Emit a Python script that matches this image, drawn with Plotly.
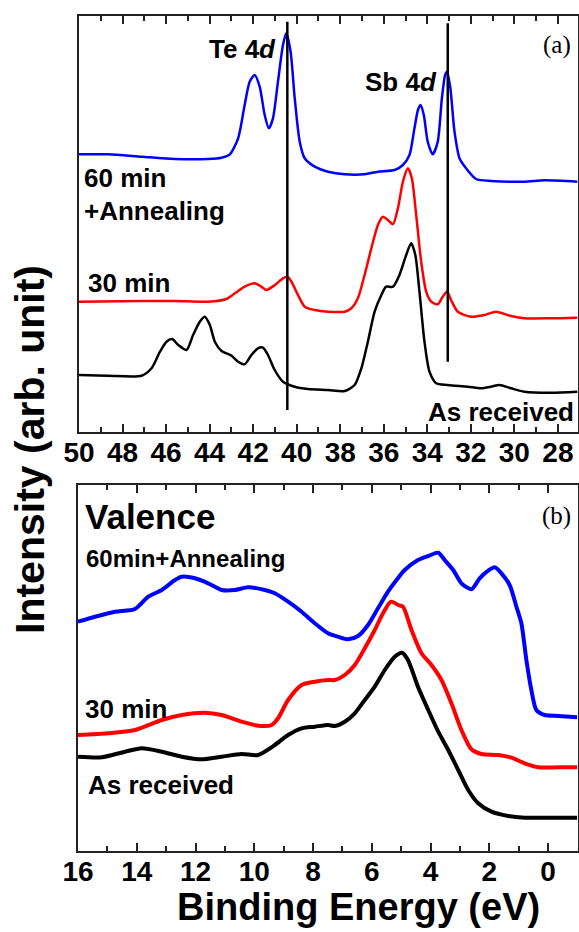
import plotly.graph_objects as go

W, H = 579, 932

# ---------------- Panel (a): Te 4d / Sb 4d core levels ----------------
a_blue_x = [50, 48.66, 47.12, 45.6, 44.07, 43.45, 43.07, 42.69, 42.39, 42.16, 41.93, 41.7, 41.47, 41.28,
            41.09, 40.86, 40.63, 40.48, 40.28, 40.09, 39.86, 39.63, 39.17, 38.56, 37.8, 36.88, 36.27,
            35.5, 35.12, 34.82, 34.59, 34.43, 34.31, 34.16, 33.98, 33.75, 33.52, 33.33, 33.18, 33.09,
            32.94, 32.75, 32.52, 32.22, 31.76, 31.07, 29.54, 28.62, 27.1]
a_blue_y = [277.7, 277.7, 275.3, 273, 273, 274.3, 277.7, 293.7, 327, 350.3, 357, 345.3, 317, 303.7,
            313.7, 350.3, 387, 398.7, 380.3, 333.7, 290.3, 273.7, 265.3, 260.3, 257.7, 257.7, 260.3,
            262, 267, 277, 303.7, 322, 327, 317, 290.3, 277.7, 290.3, 333.7, 357, 360.3,
            343.7, 300.3, 273.7, 263.7, 253, 251, 250.3, 251.7, 250.3]

a_red_x = [50, 47.12, 45.6, 44.07, 43.23, 42.84, 42.39, 41.93, 41.62, 41.39, 41.0, 40.63, 40.43, 40.24,
           39.94, 39.63, 39.17, 38.56, 37.8, 37.49, 37.19, 36.88, 36.57, 36.27, 36.04, 35.81, 35.58,
           35.35, 35.12, 34.89, 34.71, 34.51, 34.28, 34.05, 33.82, 33.52, 33.29, 33.09, 32.91, 32.6,
           31.99, 31.38, 30.84, 30.15, 29.54, 28.32, 27.1]
a_red_y = [130.3, 131, 131, 130.3, 133, 138.7, 145.3, 148.7, 145.3, 142, 147, 153.7, 155.3, 150.3,
           137, 125.3, 122, 120.3, 120.3, 123.7, 133.7, 157, 183.7, 207, 215.3, 212, 207.7,
           223.7, 250.3, 263.7, 253.7, 217, 170.3, 140.3, 130.3, 127.7, 135.3, 140.3, 132, 120.3,
           115.3, 117, 120.3, 116, 113.7, 113.7, 114.3]

a_black_x = [50, 48.66, 47.12, 46.67, 46.28, 45.98, 45.72, 45.44, 45.06, 44.76, 44.45, 44.22, 43.99,
             43.76, 43.45, 42.99, 42.69, 42.39, 42.08, 41.78, 41.55, 41.32, 41.01, 40.63, 40.09, 39.48,
             38.56, 37.8, 37.34, 37.03, 36.73, 36.42, 36.11, 35.89, 35.58, 35.28, 34.97, 34.74, 34.55,
             34.36, 34.13, 33.9, 33.59, 33.06, 32.14, 31.53, 31.07, 30.69, 30.15, 29.54, 28.32, 27.1]
a_black_y = [57, 56.3, 56.3, 63.7, 80.3, 90.3, 93, 87, 82, 97, 110.3, 115.3, 107,
             90.3, 81, 76.3, 70.3, 67.7, 77, 83.7, 84.3, 77, 62, 50.3, 45.3, 43,
             42, 41, 47, 63.7, 90.3, 120.3, 137, 145.3, 145.3, 157, 177, 188.7, 177,
             140.3, 90.3, 60.3, 48.7, 47, 45.3, 43.7, 45.3, 47, 43.7, 40.3, 39.3, 40.3]

# reference lines (Te 4d5/2 and Sb 4d5/2)
te_line_x = [40.43, 40.43]
te_line_y = [22, 410.3]
sb_line_x = [33.06, 33.06]
sb_line_y = [70.3, 408.7]

# ---------------- Panel (b): valence band ----------------
b_blue_x = [16, 15.42, 14.74, 14.06, 13.61, 13.15, 12.7, 12.47, 12.02, 11.57, 11.11, 10.66,
            10.21, 9.64, 9.3, 8.85, 8.39, 7.94, 7.49, 7.15, 6.81, 6.47, 6.13, 5.79, 5.45, 5.16, 4.88,
            4.43, 4.08, 3.74, 3.52, 3.23, 2.95, 2.61, 2.33, 2.04, 1.82, 1.59, 1.31, 1.08, 0.91, 0.74,
            0.57, 0.4, 0.12, -0.34, -0.99]
b_blue_y = [229.3, 234.3, 239.3, 242, 254.3, 261, 271, 274.3, 272.7, 267.7, 261, 261,
            263.7, 261, 257.7, 249.3, 239.3, 227.7, 217.7, 214.3, 211.7, 215, 226, 242.7, 259.3, 271, 281,
            291, 295, 298.3, 291, 281, 267.7, 261.7, 272.7, 280.3, 283.7, 277.7, 266, 244.3, 227.7, 191,
            161, 141, 136, 135, 133.7]

b_red_x = [16, 14.97, 14.06, 13.15, 12.47, 11.68, 11.11, 10.43, 9.87, 9.41, 9.19, 8.85, 8.39, 7.94,
           7.49, 7.26, 6.92, 6.58, 6.24, 5.9, 5.62, 5.35, 5.1, 4.94, 4.65, 4.31, 3.97, 3.63, 3.29,
           2.95, 2.61, 2.27, 1.7, 1.25, 0.8, 0.34, -0.34, -0.99]
b_red_y = [116, 117.7, 121, 131, 136, 138.3, 136, 129.3, 125.3, 126, 132.7, 151, 166, 169.3,
           171, 171, 176, 186, 202.7, 221, 237.7, 249.3, 246, 244.3, 221, 197.7, 186, 171, 147.7,
           121, 101.7, 97, 96, 93.3, 87.7, 83.7, 83.7, 83.7]

b_black_x = [16, 15.19, 14.4, 13.83, 13.15, 12.47, 11.79, 11.11, 10.43, 9.87, 9.3, 8.85, 8.39, 7.94,
             7.49, 7.26, 6.92, 6.58, 6.24, 5.9, 5.56, 5.22, 4.97, 4.77, 4.43, 4.08, 3.74, 3.4, 3.06,
             2.72, 2.38, 1.93, 1.36, 0.8, -0.34, -0.99]
b_black_y = [94.3, 93.7, 99.3, 102.7, 99.3, 94.3, 91.7, 94.3, 97, 96, 106, 116, 122.7, 124.3,
             126, 125, 129.3, 137.7, 151, 164.3, 181, 194.3, 198.3, 191, 164.3, 141, 119.3, 101, 81,
             61, 47.7, 39.3, 35, 33.3, 33.3, 33.3]

a_ticks = list(range(50, 27, -2))
b_ticks = list(range(16, -1, -2))

FONT = "Liberation Sans, Arial, sans-serif"
SERIF = "Liberation Serif, Times New Roman, serif"

fig = go.Figure()

def line(x, y, color, width, xa, ya, shape="spline"):
    fig.add_trace(go.Scatter(x=x, y=y, mode="lines", xaxis=xa, yaxis=ya,
                             line=dict(color=color, width=width, shape=shape, smoothing=0.7),
                             showlegend=False, hoverinfo="skip"))

line(a_black_x, a_black_y, "black", 2.5, "x", "y")
line(a_red_x, a_red_y, "#ff0000", 2.5, "x", "y")
line(a_blue_x, a_blue_y, "#0000ff", 2.5, "x", "y")
line(te_line_x, te_line_y, "black", 2.5, "x", "y", "linear")
line(sb_line_x, sb_line_y, "black", 2.5, "x", "y", "linear")

line(b_black_x, b_black_y, "black", 4, "x2", "y2")
line(b_red_x, b_red_y, "#ff0000", 4, "x2", "y2")
line(b_blue_x, b_blue_y, "#0000ff", 4, "x2", "y2")

def px(x):
    return x / W

def py(y):
    return 1 - y / H

axis_common = dict(showline=True, linewidth=2, linecolor="#222", mirror="allticks",
                   ticks="inside", ticklen=8, tickwidth=2, tickcolor="#222",
                   showgrid=False, zeroline=False, ticklabelstandoff=-6, automargin=False,
                   tickfont=dict(family=FONT, size=28, color="black", weight="bold"),
                   minor=dict(ticks="inside", ticklen=5, tickwidth=1.5, tickcolor="#222", dtick=1))

fig.update_layout(
    width=W, height=H, margin=dict(l=0, r=0, t=0, b=0, autoexpand=False),
    paper_bgcolor="white", plot_bgcolor="white",
    xaxis=dict(domain=[px(79), px(577.5)], range=[50, 27.1], tickvals=a_ticks,
               anchor="y", **axis_common),
    yaxis=dict(domain=[py(432), py(16)], range=[0, 416], showline=True, linewidth=2,
               linecolor="#222", mirror=True, ticks="", showticklabels=False,
               showgrid=False, zeroline=False, anchor="x", automargin=False),
    xaxis2=dict(domain=[px(78), px(577.5)], range=[16, -1], tickvals=b_ticks,
                anchor="y2", **axis_common),
    yaxis2=dict(domain=[py(851), py(485)], range=[0, 366], showline=True, linewidth=2,
                linecolor="#222", mirror=True, ticks="", showticklabels=False,
                showgrid=False, zeroline=False, anchor="x2", automargin=False),
)

def ann(text, x, y, size, xanchor="left", family=FONT, bold=True, angle=0):
    fig.add_annotation(text=text, x=px(x), y=py(y), xref="paper", yref="paper",
                       xanchor=xanchor, yanchor="middle", showarrow=False, textangle=angle,
                       font=dict(family=family, size=size, color="black",
                                 weight="bold" if bold else "normal"))

# panel (a) labels
ann("Te 4<i>d</i>", 242, 49, 26, "center")
ann("Sb 4<i>d</i>", 401, 82, 26, "center")
ann("(a)", 557, 45, 25, "center", SERIF, False)
ann("60 min", 82, 178, 26)
ann("+Annealing", 82, 211, 26)
ann("30 min", 86, 283, 26)
ann("As received", 576, 412, 26, "right")

# panel (b) labels
ann("Valence", 83, 516, 35)
ann("60min+Annealing", 84, 558, 24)
ann("30 min", 83, 709, 26)
ann("As received", 86, 785, 26)
ann("(b)", 556, 516, 25, "center", SERIF, False)

# shared axis titles
ann("Intensity (arb. unit)", 30, 450, 41, "center", angle=-90)
ann("Binding Energy (eV)", 358, 907, 38, "center")

fig.write_html("out.html")
